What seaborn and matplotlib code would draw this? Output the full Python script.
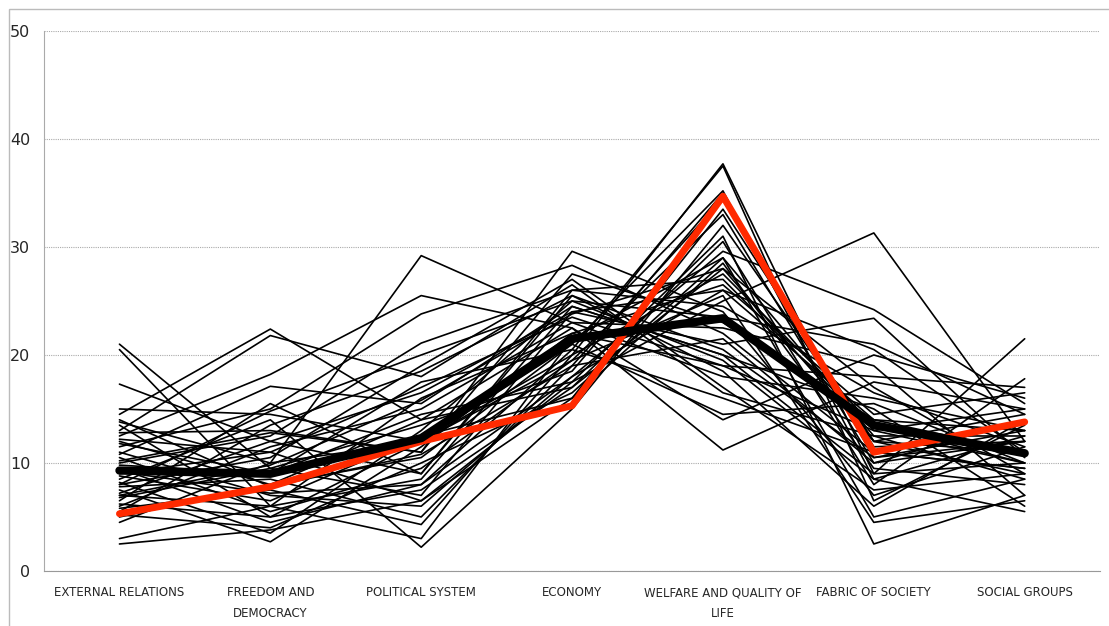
import matplotlib
matplotlib.use("Agg")
import matplotlib.pyplot as plt
import matplotlib.patches as mpatches
import numpy as np
import pandas as pd
import seaborn as sns

sns.set_style("white")
plt.rcParams["font.family"] = ["Liberation Sans Narrow", "DejaVu Sans"]

# categories along the x axis
categories = [
    "EXTERNAL RELATIONS",
    "FREEDOM AND\nDEMOCRACY",
    "POLITICAL SYSTEM",
    "ECONOMY",
    "WELFARE AND QUALITY OF\nLIFE",
    "FABRIC OF SOCIETY",
    "SOCIAL GROUPS",
]

# one thin line per row (approximate)
external = [21.0, 20.5, 17.3, 15.0, 14.5, 13.8, 13.0, 12.8, 12.5, 12.0, 11.5, 11.0, 10.8, 10.5, 10.0,
            9.8, 9.5, 9.0, 8.8, 8.5, 8.2, 8.0, 7.8, 7.5, 7.2, 7.0, 6.8, 6.5, 6.2, 6.0,
            5.8, 5.5, 5.2, 5.0, 4.5, 3.0, 2.5, 11.8, 10.2, 9.2, 13.5, 8.0, 12.2, 7.0, 14.0]
freedom = [9.5, 6.0, 12.0, 14.5, 22.4, 10.0, 21.8, 13.0, 18.2, 8.0, 15.0, 7.0, 17.1, 5.5, 12.5,
           9.0, 4.5, 11.0, 6.5, 14.0, 3.5, 10.5, 8.5, 2.7, 12.0, 6.0, 9.5, 15.5, 5.0, 11.5,
           7.5, 13.5, 4.0, 8.0, 10.0, 6.0, 3.8, 9.0, 12.8, 7.2, 5.0, 14.8, 11.0, 9.8, 7.8]
political = [7.0, 16.0, 9.0, 12.0, 14.0, 29.2, 18.0, 11.0, 25.5, 10.5, 23.8, 6.0, 15.5, 9.5, 21.1,
             14.5, 8.0, 17.0, 12.5, 2.2, 13.0, 19.0, 5.0, 11.5, 16.5, 3.0, 13.5, 9.0, 7.5, 15.0,
             4.3, 18.5, 10.0, 14.0, 12.0, 8.5, 6.5, 17.5, 11.0, 8.0, 12.0, 20.0, 6.5, 15.8, 10.8]
economy = [24.0, 22.0, 25.5, 20.0, 17.0, 23.0, 26.5, 29.6, 22.5, 21.0, 28.3, 18.0, 24.5, 19.5, 26.0,
           17.5, 20.5, 23.5, 16.0, 15.0, 25.0, 27.0, 19.0, 22.0, 24.0, 21.5, 18.5, 26.0, 17.0, 23.0,
           20.0, 25.5, 16.5, 22.5, 19.5, 24.5, 17.5, 20.5, 27.5, 18.0, 21.0, 25.0, 16.0, 23.8, 19.0]
welfare = [26.0, 19.0, 20.5, 37.7, 28.0, 18.0, 16.5, 24.0, 14.0, 35.2, 22.0, 29.6, 20.0, 33.0, 27.0,
           25.0, 37.5, 19.0, 28.5, 32.0, 23.5, 17.0, 34.5, 26.5, 21.0, 29.0, 35.0, 24.5, 30.5, 22.5,
           27.5, 18.5, 29.0, 11.2, 25.5, 20.0, 31.0, 16.0, 23.0, 26.0, 14.5, 19.5, 33.5, 28.0, 21.5]
fabric = [14.0, 13.0, 10.5, 9.0, 12.0, 16.0, 12.5, 7.0, 20.0, 8.5, 11.0, 24.2, 15.0, 10.0, 13.0,
          31.3, 6.5, 18.0, 9.5, 12.0, 21.0, 7.5, 11.5, 14.5, 23.4, 5.0, 10.5, 16.5, 8.0, 19.0,
          13.5, 6.0, 12.5, 17.5, 4.5, 9.0, 2.5, 11.0, 14.0, 20.5, 15.5, 8.5, 12.0, 17.0, 10.0]
social = [11.0, 15.0, 12.0, 10.0, 9.0, 13.0, 8.5, 11.5, 16.0, 12.5, 9.5, 15.5, 6.0, 14.0, 10.0,
          12.0, 13.5, 17.0, 8.0, 11.0, 14.5, 9.0, 12.0, 16.5, 10.5, 8.5, 13.0, 11.5, 17.8, 7.0,
          10.0, 14.0, 12.5, 15.0, 6.5, 21.5, 7.0, 9.5, 13.0, 11.0, 10.0, 5.5, 14.5, 9.0, 12.0]

# highlighted series
red_line = [5.3, 7.8, 12.0, 15.3, 34.7, 11.0, 13.8]
mean_line = [9.3, 9.0, 12.3, 21.5, 23.4, 13.5, 10.9]

thin = np.array([external, freedom, political, economy, welfare, fabric, social]).T
rows = []
for i, vals in enumerate(thin):
    for j, v in enumerate(vals):
        rows.append({"id": i, "pos": j, "value": v})
df = pd.DataFrame(rows)

fig = plt.figure(figsize=(11.09, 6.26), dpi=100)
ax = fig.add_axes([0.0397, 0.0879, 0.9523, 0.8626])

sns.lineplot(data=df, x="pos", y="value", units="id", estimator=None,
             color="black", linewidth=1.2, ax=ax, zorder=2)
sns.lineplot(x=range(7), y=red_line, color="#ff2a00", linewidth=5, ax=ax, zorder=3)
sns.lineplot(x=range(7), y=mean_line, color="black", linewidth=6, ax=ax, zorder=4)

ax.set_xlim(-0.5, 6.5)
ax.set_ylim(0, 50)
ax.set_yticks([0, 10, 20, 30, 40, 50])
ax.set_xticks(range(7))
ax.set_xticklabels(categories, fontsize=8.5, linespacing=1.75)
ax.set_xticks(np.arange(-0.5, 7.0, 1.0), minor=True)
ax.tick_params(axis="x", which="major", length=0, pad=11)
ax.tick_params(axis="x", which="minor", length=5, color="#999999", width=1)
ax.tick_params(axis="y", length=4, color="#aaaaaa", labelsize=11.5, pad=6)
ax.set_xlabel("")
ax.set_ylabel("")

ax.grid(axis="y", linestyle=(0, (1, 1)), color="#aaaaaa", linewidth=0.8)
for s in ["top", "right"]:
    ax.spines[s].set_visible(False)
ax.spines["bottom"].set_color("#999999")
ax.spines["left"].set_color("#aaaaaa")
ax.spines["left"].set_linestyle((0, (1, 1)))

# outer chart frame
fig.patches.append(mpatches.Rectangle((0.008, -0.01), 1.2, 0.996, transform=fig.transFigure,
                                      fill=False, edgecolor="#bbbbbb", linewidth=1))

fig.savefig("out.png", dpi=100)
